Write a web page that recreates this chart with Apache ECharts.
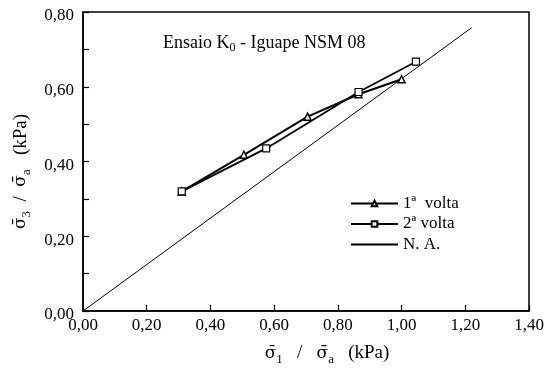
<!DOCTYPE html>
<html>
<head>
<meta charset="utf-8">
<script src="https://cdn.jsdelivr.net/npm/echarts@6/dist/echarts.min.js"></script>
<style>
html, body { margin: 0; padding: 0; background: #fff; }
#chart { width: 549px; height: 371px; }
</style>
</head>
<body>
<div id="chart"></div>
<script>
// dados
var volta1 = [[0.31, 0.32], [0.505, 0.418], [0.705, 0.52], [0.865, 0.58], [1.00, 0.62]];
var volta2 = [[0.31, 0.32], [0.575, 0.435], [0.865, 0.586], [1.045, 0.667]];
var linhaNA = [[0, 0], [1.22, 0.758]];
var nomes = ['1ª  volta', '2ª volta', 'N. A.'];

var serif = 'Liberation Serif';
function fmt(v) { return v.toFixed(2).replace('.', ','); }

var richNome = {
    s: { fontFamily: 'DejaVu Serif', fontSize: 17, color: '#000' },
    t: { fontFamily: serif, fontSize: 19, color: '#000' },
    b: { fontFamily: serif, fontSize: 13, color: '#000', verticalAlign: 'bottom', padding: [12, 0, 0, 0] }
};

var chart = echarts.init(document.getElementById('chart'));
var option = {
    animation: false,
    textStyle: { fontFamily: serif },
    grid: {
        left: 83, right: 20, top: 12, bottom: 59,
        show: true, borderColor: '#000', borderWidth: 1.5
    },
    title: {
        text: '{t|Ensaio K}{s|0}{t| - Iguape NSM 08}',
        left: 158, top: 27,
        textStyle: {
            fontWeight: 'normal',
            rich: {
                t: { fontFamily: serif, fontSize: 18, color: '#000', fontWeight: 'normal' },
                s: { fontFamily: serif, fontSize: 12, color: '#000', fontWeight: 'normal', verticalAlign: 'bottom', padding: [10, 0, 0, 0] }
            }
        }
    },
    legend: {
        orient: 'vertical',
        left: 345, top: 190,
        itemWidth: 47, itemHeight: 7, itemGap: 3.5,
        textStyle: { fontFamily: serif, fontSize: 17, color: '#000' },
        data: [
            { name: nomes[0] },
            { name: nomes[1] },
            { name: nomes[2], itemStyle: { color: 'rgba(0,0,0,0)', borderColor: 'rgba(0,0,0,0)' } }
        ]
    },
    xAxis: {
        type: 'value', min: 0, max: 1.4, interval: 0.2,
        name: '{s|σ̄}{b|1}{t|   /   }{s|σ̄}{b|a}{t|   (kPa)}',
        nameLocation: 'middle', nameGap: 30,
        nameTextStyle: { padding: [0, 0, 0, 42], rich: richNome },
        axisLine: { lineStyle: { color: '#000', width: 1.5 } },
        axisTick: { inside: true, length: 6, lineStyle: { color: '#000', width: 1.2 } },
        axisLabel: { fontFamily: serif, fontSize: 17, color: '#000', margin: 6, formatter: fmt },
        splitLine: { show: false }
    },
    yAxis: {
        type: 'value', min: 0, max: 0.8, interval: 0.1,
        name: '{s|σ̄}{b|3}{t|  /  }{s|σ̄}{b|a}{t|   (kPa)}',
        nameLocation: 'middle', nameGap: 38, nameRotate: 90,
        nameTextStyle: { padding: [0, 20, 0, 0], rich: richNome },
        axisLine: { lineStyle: { color: '#000', width: 1.5 } },
        axisTick: { inside: true, length: 6, lineStyle: { color: '#000', width: 1.2 } },
        axisLabel: {
            color: '#000', margin: 9,
            formatter: function (v) { return Math.round(v * 10) % 2 === 0 ? '{v|' + fmt(v) + '}' : ''; },
            rich: {
                v: { fontFamily: serif, fontSize: 17, color: '#000', verticalAlign: 'bottom', padding: [8, 0, 0, 0] }
            }
        },
        splitLine: { show: false }
    },
    series: [
        {
            name: nomes[0], type: 'line', data: volta1,
            symbol: 'triangle', symbolSize: 7,
            itemStyle: { color: '#fff', borderColor: '#000', borderWidth: 1.5 },
            lineStyle: { color: '#000', width: 2 }
        },
        {
            name: nomes[1], type: 'line', data: volta2,
            symbol: 'rect', symbolSize: 7,
            itemStyle: { color: '#fff', borderColor: '#000', borderWidth: 1.2 },
            lineStyle: { color: '#000', width: 1.8 }
        },
        {
            name: nomes[2], type: 'line', data: linhaNA,
            symbol: 'none',
            itemStyle: { color: '#000' },
            lineStyle: { color: '#000', width: 1 }
        }
    ]
};
chart.setOption(option);
</script>
</body>
</html>
